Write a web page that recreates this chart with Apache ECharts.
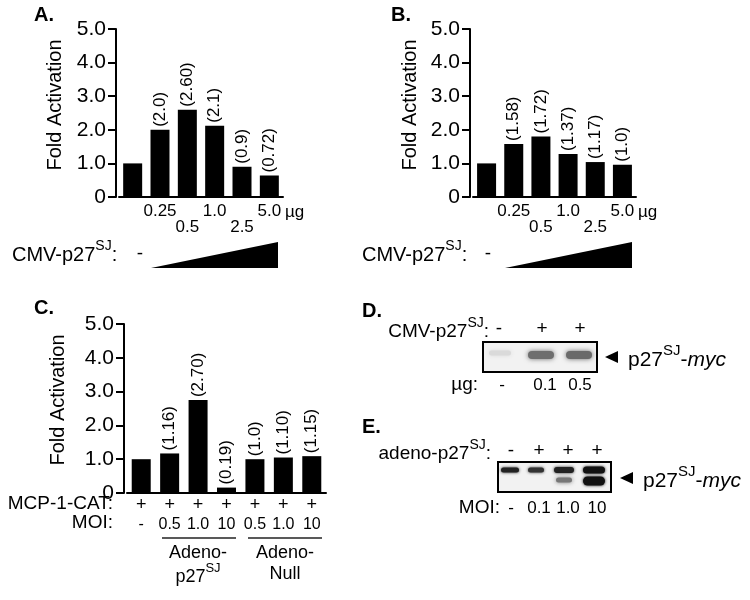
<!DOCTYPE html>
<html><head><meta charset="utf-8">
<script src="https://cdn.jsdelivr.net/npm/echarts@6/dist/echarts.min.js"></script>
<style>html,body{margin:0;padding:0;background:#fff}#c{width:750px;height:600px}</style>
</head><body><div id="c"></div>
<script>
const F = '"Liberation Sans", Arial, Helvetica, sans-serif';
// Panel A
const catsA = ['', '0.25', '0.5', '1.0', '2.5', '5.0'];
const valuesA = [1.0, 2.0, 2.6, 2.12, 0.9, 0.64];
const labelsA = ['', '(2.0)', '(2.60)', '(2.1)', '(0.9)', '(0.72)'];
// Panel B
const catsB = ['', '0.25', '0.5', '1.0', '2.5', '5.0'];
const valuesB = [1.0, 1.58, 1.8, 1.28, 1.04, 0.96];
const labelsB = ['', '(1.58)', '(1.72)', '(1.37)', '(1.17)', '(1.0)'];
// Panel C
const catCAT = ['+', '+', '+', '+', '+', '+', '+'];
const catMOI = ['-', '0.5', '1.0', '10', '0.5', '1.0', '10'];
const valuesC = [1.0, 1.17, 2.75, 0.16, 1.0, 1.05, 1.09];
const labelsC = ['', '(1.16)', '(2.70)', '(0.19)', '(1.0)', '(1.10)', '(1.15)'];
// Panel D
const signsD = ['-', '+', '+'];
const doseD = ['-', '0.1', '0.5'];
// Panel E
const signsE = ['-', '+', '+', '+'];
const moiE = ['-', '0.1', '1.0', '10'];

const chart = echarts.init(document.getElementById('c'), null, {renderer: 'canvas'});

function yAx(gi, offset) {
  return {
    type: 'value', gridIndex: gi, min: 0, max: 5, interval: 1, offset: offset,
    axisLine: {show: true, lineStyle: {color: '#000', width: 2}},
    axisTick: {show: true, length: 8, lineStyle: {color: '#000', width: 2}},
    axisLabel: {fontSize: 21, fontFamily: F, color: '#000', margin: 10,
      formatter: v => v === 0 ? '0' : v.toFixed(1)},
    splitLine: {show: false}
  };
}
function xAx(gi, data, label) {
  return {
    type: 'category', gridIndex: gi, data: data,
    axisLine: {show: true, lineStyle: {color: '#000', width: 2}},
    axisTick: {show: false},
    axisLabel: Object.assign({interval: 0, color: '#000', fontFamily: F}, label)
  };
}
function barS(i, data, labels) {
  return {
    type: 'bar', xAxisIndex: i, yAxisIndex: i, data: data, barWidth: 19,
    itemStyle: {color: '#000'},
    label: {show: true, position: 'top', distance: 3, rotate: 90, align: 'left',
      verticalAlign: 'middle', fontSize: 17, fontFamily: F, color: '#000',
      formatter: p => labels[p.dataIndex]}
  };
}
const T = (x, y, text, o, rot) => ({type: 'text', x: x, y: y, z: 10, rotation: rot || 0,
  style: Object.assign({text: text, fontSize: 19, fontFamily: F, fill: '#000', align: 'left', verticalAlign: 'middle'}, o || {})});
function supRich(size) {
  return {
    a: {fontSize: size, fontFamily: F, verticalAlign: 'bottom'},
    s: {fontSize: Math.round(size * 0.72), fontFamily: F, verticalAlign: 'bottom', padding: [0, 0, Math.round(size * 0.6), 0]},
    i: {fontSize: size, fontFamily: F, fontStyle: 'italic', verticalAlign: 'bottom'}
  };
}
const Tsup = (x, y, text, size, align) => T(x, y, text, {rich: supRich(size), align: align || 'left'});
const line = (x1, y1, x2, y2, w) => ({type: 'line', shape: {x1, y1, x2, y2}, style: {stroke: '#222', lineWidth: w || 1.5}});
const poly = (pts) => ({type: 'polygon', shape: {points: pts}, style: {fill: '#000'}});
const band = (cx, cy, w, h, c, blur) => ({type: 'rect', z: 5, shape: {x: cx - w / 2, y: cy - h / 2, width: w, height: h, r: h / 2},
  style: {fill: c, shadowBlur: blur || 4, shadowColor: c}});
const bold = {fontSize: 20, fontWeight: 'bold'};
const ROT = Math.PI / 2;

const graphics = [
  // Panel A
  T(34, 15, 'A.', bold),
  T(55, 105, 'Fold Activation', {fontSize: 20, align: 'center'}, ROT),
  T(285, 212, 'µg', {fontSize: 17}),
  Tsup(12, 252, '{a|CMV-p27}{s|SJ}{a|:}', 20),
  T(140, 254, '-', {fontSize: 19, align: 'center'}),
  poly([[151, 268], [278, 268], [278, 242]]),
  // Panel B
  T(391, 15, 'B.', bold),
  T(410, 105, 'Fold Activation', {fontSize: 20, align: 'center'}, ROT),
  T(638, 212, 'µg', {fontSize: 17}),
  Tsup(362, 252, '{a|CMV-p27}{s|SJ}{a|:}', 20),
  T(488, 254, '-', {fontSize: 19, align: 'center'}),
  poly([[505, 268], [632, 268], [632, 242]]),
  // Panel C
  T(34, 308, 'C.', bold),
  T(58, 400, 'Fold Activation', {fontSize: 20, align: 'center'}, ROT),
  T(113, 504, 'MCP-1-CAT:', {fontSize: 19, align: 'right'}),
  T(113, 523, 'MOI:', {fontSize: 19, align: 'right'}),
  line(162, 538, 236, 538), line(248, 538, 322, 538),
  T(198, 553, 'Adeno-', {fontSize: 18, align: 'center'}),
  Tsup(198, 574, '{a|p27}{s|SJ}', 18, 'center'),
  T(285, 553, 'Adeno-', {fontSize: 18, align: 'center'}),
  T(285, 574, 'Null', {fontSize: 18, align: 'center'}),
  // Panel D
  T(362, 311, 'D.', bold),
  Tsup(489, 329, '{a|CMV-p27}{s|SJ}{a|:}', 19, 'right'),
  {type: 'rect', z: 4, shape: {x: 483, y: 342, width: 114, height: 30}, style: {fill: '#f2f2f2', stroke: '#000', lineWidth: 2}},
  band(500, 353, 22, 5, '#dadada', 4),
  band(541, 355, 26, 8, '#6e6e6e', 5),
  band(579, 355, 26, 8, '#6a6a6a', 5),
  poly([[605, 357], [618, 351], [618, 363]]),
  Tsup(628, 357, '{a|p27}{s|SJ}{a|-}{i|myc}', 21),
  T(478, 385, 'µg:', {fontSize: 19, align: 'right'}),
  // Panel E
  T(362, 427, 'E.', bold),
  Tsup(491, 451, '{a|adeno-p27}{s|SJ}{a|:}', 19, 'right'),
  {type: 'rect', z: 4, shape: {x: 498, y: 462, width: 113, height: 30}, style: {fill: '#f2f2f2', stroke: '#000', lineWidth: 2}},
  band(510, 470, 18, 5, '#222', 3),
  band(536, 470, 16, 5, '#333', 3),
  band(564, 470, 20, 6, '#222', 3),
  band(594, 470, 22, 7, '#111', 3),
  band(564, 480, 16, 5, '#777', 4),
  band(594, 481, 22, 9, '#111', 3),
  poly([[620, 478], [633, 472], [633, 484]]),
  Tsup(643, 478, '{a|p27}{s|SJ}{a|-}{i|myc}', 21),
  T(500, 508, 'MOI:', {fontSize: 19, align: 'right'})
];
const dSignX = [499, 542, 580];
const dDoseX = [502, 545, 580];
signsD.forEach((s, i) => graphics.push(T(dSignX[i], 329, s, {fontSize: 19, align: 'center'})));
doseD.forEach((s, i) => graphics.push(T(dDoseX[i], 385, s, {fontSize: 17, align: 'center'})));
const eX = [511, 539, 568, 597];
signsE.forEach((s, i) => graphics.push(T(eX[i], 451, s, {fontSize: 19, align: 'center'})));
moiE.forEach((s, i) => graphics.push(T(eX[i], 508, s, {fontSize: 17, align: 'center'})));

chart.setOption({
  animation: false,
  backgroundColor: '#fff',
  grid: [
    {left: 119, top: 29, width: 164, height: 168},
    {left: 473, top: 29, width: 163, height: 168},
    {left: 127, top: 324, width: 199, height: 169}
  ],
  xAxis: [
    xAx(0, catsA, {fontSize: 17, lineHeight: 16, margin: 6, formatter: (v, i) => (i === 2 || i === 4) ? '\n' + v : v}),
    xAx(1, catsB, {fontSize: 17, lineHeight: 16, margin: 6, formatter: (v, i) => (i === 2 || i === 4) ? '\n' + v : v}),
    xAx(2, catMOI, {margin: 3, formatter: (v, i) => '{p|' + catCAT[i] + '}\n{m|' + catMOI[i] + '}',
      rich: {p: {fontSize: 18, lineHeight: 19, fontFamily: F, color: '#000'}, m: {fontSize: 16, lineHeight: 19, fontFamily: F, color: '#000'}}})
  ],
  yAxis: [yAx(0, 3), yAx(1, 3), yAx(2, 3)],
  series: [barS(0, valuesA, labelsA), barS(1, valuesB, labelsB), barS(2, valuesC, labelsC)],
  graphic: graphics
});
</script></body></html>
